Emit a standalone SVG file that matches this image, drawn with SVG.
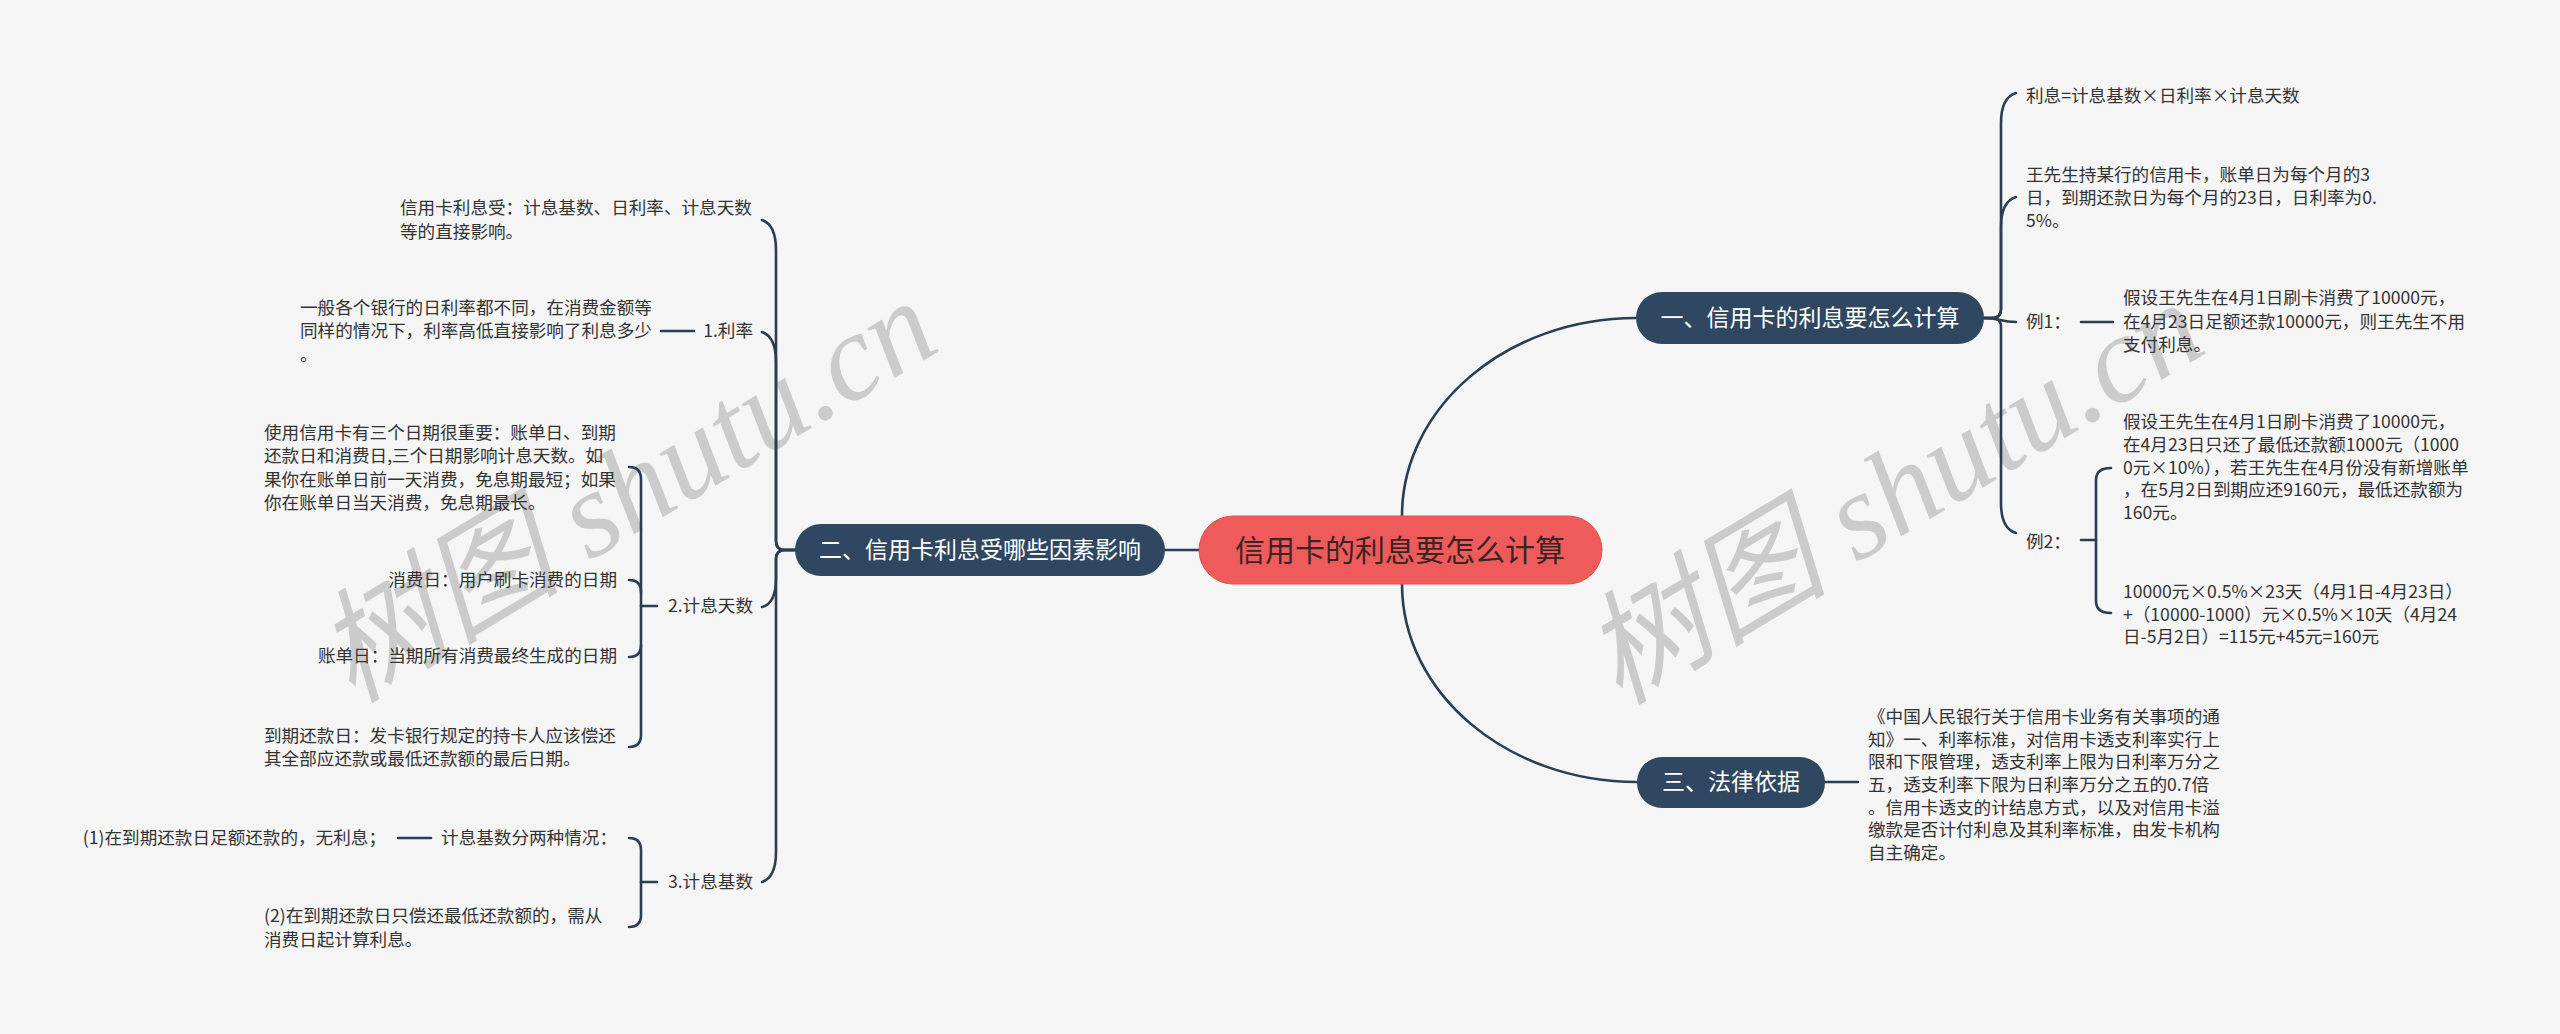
<svg xmlns="http://www.w3.org/2000/svg" width="2560" height="1034" viewBox="0 0 2560 1034">
<style>
.bg{fill:#f5f5f5}
.wm{font-family:"Liberation Serif","Noto Sans CJK SC",serif;font-style:italic;font-size:123px;fill:#cbcbcb}
.t{font-family:"Noto Sans CJK SC","Liberation Sans",sans-serif;font-size:17.6px;fill:#333333}
.e{text-anchor:end}
.m{font-family:"Noto Sans CJK SC","Liberation Sans",sans-serif;font-size:23px;fill:#ffffff;text-anchor:middle}
.c{font-family:"Noto Sans CJK SC","Liberation Sans",sans-serif;font-size:30px;fill:#3b2424;text-anchor:middle}
.main{fill:#2f4760}
.root{fill:#ef5a5a;stroke:#e24e4e;stroke-width:1}
.ln{fill:none;stroke:#2a3d52;stroke-width:2.6;stroke-linecap:round}
</style>
<rect class="bg" x="0" y="0" width="2560" height="1034"/>
<g id="watermarks">
<text class="wm" transform="translate(352,704) rotate(-31)">树图 shutu.cn</text>
<text class="wm" transform="translate(1619,706) rotate(-31)">树图 shutu.cn</text>
</g>
<g id="connectors">
<path class="ln" d="M1165,550 L1199,550"/>
<path class="ln" d="M1402,516 C1402,407 1507,318 1636,318"/>
<path class="ln" d="M1402,584 C1402,693 1507,782 1637,782"/>
<path class="ln" d="M795,550 L785,550 Q776,550 776,541 L776,250 C776,232 771,223 762,220"/>
<path class="ln" d="M795,550 L785,550 Q776,550 776,541 L776,362 C776,344 771,335 762,332"/>
<path class="ln" d="M795,550 L785,550 Q776,550 776,559 L776,578 C776,596 771,605 762,607"/>
<path class="ln" d="M795,550 L785,550 Q776,550 776,559 L776,852 C776,870 771,879 762,882"/>
<path class="ln" d="M661,331 L694,331"/>
<path class="ln" d="M657,606 L641,606"/>
<path class="ln" d="M629,467 Q641,467 641,479 L641,735 Q641,747 629,747"/>
<path class="ln" d="M629,580 Q641,580 641,592"/>
<path class="ln" d="M629,657 Q641,657 641,645"/>
<path class="ln" d="M657,882 L641,882"/>
<path class="ln" d="M629,838 Q641,838 641,850 L641,915 Q641,927 629,927"/>
<path class="ln" d="M398,838 L431,838"/>
<path class="ln" d="M1984,318 L1992,318 Q2001,318 2001,309 L2001,123 C2001,105 2006,96 2016,93"/>
<path class="ln" d="M1984,318 L1992,318 Q2001,318 2001,309 L2001,227 C2001,209 2006,200 2016,197"/>
<path class="ln" d="M1984,318 C2000,318 2000,322 2016,322"/>
<path class="ln" d="M1984,318 L1992,318 Q2001,318 2001,327 L2001,503 C2001,521 2006,530 2016,533"/>
<path class="ln" d="M2081,322 L2113,322"/>
<path class="ln" d="M2081,540 L2096,540"/>
<path class="ln" d="M2111,468 Q2096,468 2096,480 L2096,601 Q2096,613 2111,613"/>
<path class="ln" d="M1825,782 L1858,782"/>
</g>
<g id="root">
<rect class="root" x="1199" y="516" width="403" height="68" rx="34"/>
<text class="c" x="1400" y="561">信用卡的利息要怎么计算</text>
</g>
<g id="node-left">
<rect class="main" x="795" y="524" width="370" height="52" rx="26"/>
<text class="m" x="980" y="558">二、信用卡利息受哪些因素影响</text>
</g>
<g id="node-right1">
<rect class="main" x="1636" y="292" width="348" height="52" rx="26"/>
<text class="m" x="1810" y="326">一、信用卡的利息要怎么计算</text>
</g>
<g id="node-right3">
<rect class="main" x="1637" y="757" width="188" height="51" rx="25"/>
<text class="m" x="1731" y="790">三、法律依据</text>
</g>
<g id="l-a">
<text class="t" x="400" y="214">信用卡利息受：计息基数、日利率、计息天数</text>
<text class="t" x="400" y="238">等的直接影响。</text>
</g>
<g id="l-b"><text class="t e" x="753" y="337">1.利率</text></g>
<g id="l-b1">
<text class="t" x="300" y="314">一般各个银行的日利率都不同，在消费金额等</text>
<text class="t" x="300" y="337">同样的情况下，利率高低直接影响了利息多少</text>
<text class="t" x="300" y="361">。</text>
</g>
<g id="l-c"><text class="t e" x="753" y="612">2.计息天数</text></g>
<g id="l-c1">
<text class="t" x="264" y="439">使用信用卡有三个日期很重要：账单日、到期</text>
<text class="t" x="264" y="462">还款日和消费日,三个日期影响计息天数。如</text>
<text class="t" x="264" y="486">果你在账单日前一天消费，免息期最短；如果</text>
<text class="t" x="264" y="509">你在账单日当天消费，免息期最长。</text>
</g>
<g id="l-c2"><text class="t e" x="617" y="586">消费日：用户刷卡消费的日期</text></g>
<g id="l-c3"><text class="t e" x="617" y="662">账单日：当期所有消费最终生成的日期</text></g>
<g id="l-c4">
<text class="t" x="264" y="742">到期还款日：发卡银行规定的持卡人应该偿还</text>
<text class="t" x="264" y="765">其全部应还款或最低还款额的最后日期。</text>
</g>
<g id="l-d"><text class="t e" x="753" y="888">3.计息基数</text></g>
<g id="l-d1"><text class="t e" x="617" y="844">计息基数分两种情况：</text></g>
<g id="l-d1a"><text class="t e" x="386" y="844">(1)在到期还款日足额还款的，无利息；</text></g>
<g id="l-d2">
<text class="t" x="264" y="922">(2)在到期还款日只偿还最低还款额的，需从</text>
<text class="t" x="264" y="946">消费日起计算利息。</text>
</g>
<g id="r-k"><text class="t" x="2026" y="102">利息=计息基数×日利率×计息天数</text></g>
<g id="r-l">
<text class="t" x="2026" y="181">王先生持某行的信用卡，账单日为每个月的3</text>
<text class="t" x="2026" y="204">日，到期还款日为每个月的23日，日利率为0.</text>
<text class="t" x="2026" y="227">5%。</text>
</g>
<g id="r-m"><text class="t" x="2026" y="328">例1：</text></g>
<g id="r-m1">
<text class="t" x="2123" y="304">假设王先生在4月1日刷卡消费了10000元，</text>
<text class="t" x="2123" y="328">在4月23日足额还款10000元，则王先生不用</text>
<text class="t" x="2123" y="351">支付利息。</text>
</g>
<g id="r-n"><text class="t" x="2026" y="548">例2：</text></g>
<g id="r-n1">
<text class="t" x="2123" y="428">假设王先生在4月1日刷卡消费了10000元，</text>
<text class="t" x="2123" y="451">在4月23日只还了最低还款额1000元（1000</text>
<text class="t" x="2123" y="474">0元×10%），若王先生在4月份没有新增账单</text>
<text class="t" x="2123" y="496">，在5月2日到期应还9160元，最低还款额为</text>
<text class="t" x="2123" y="519">160元。</text>
</g>
<g id="r-n2">
<text class="t" x="2123" y="598">10000元×0.5%×23天（4月1日-4月23日）</text>
<text class="t" x="2123" y="621">+（10000-1000）元×0.5%×10天（4月24</text>
<text class="t" x="2123" y="643">日-5月2日）=115元+45元=160元</text>
</g>
<g id="r-3">
<text class="t" x="1868" y="723">《中国人民银行关于信用卡业务有关事项的通</text>
<text class="t" x="1868" y="746">知》一、利率标准，对信用卡透支利率实行上</text>
<text class="t" x="1868" y="768">限和下限管理，透支利率上限为日利率万分之</text>
<text class="t" x="1868" y="791">五，透支利率下限为日利率万分之五的0.7倍</text>
<text class="t" x="1868" y="814">。信用卡透支的计结息方式，以及对信用卡溢</text>
<text class="t" x="1868" y="836">缴款是否计付利息及其利率标准，由发卡机构</text>
<text class="t" x="1868" y="859">自主确定。</text>
</g>
</svg>
